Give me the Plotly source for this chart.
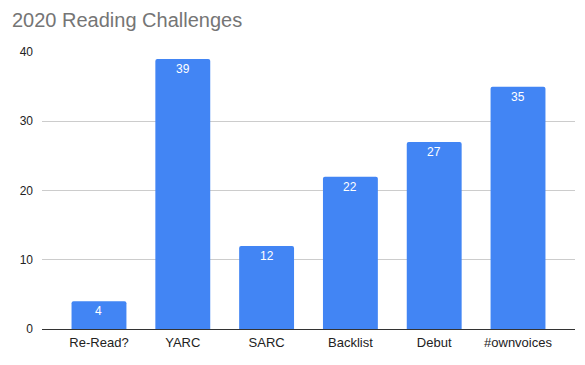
import plotly.graph_objects as go

categories = ["Re-Read?", "YARC", "SARC", "Backlist", "Debut", "#ownvoices"]
values = [4, 39, 12, 22, 27, 35]
y_ticks = [0, 10, 20, 30, 40]

fig = go.Figure(go.Bar(
    x=categories, y=values,
    marker=dict(color="#4285F4", cornerradius=2, line=dict(width=0)),
    width=0.655,
    hoverinfo="x+y",
))

for c, v in zip(categories, values):
    fig.add_annotation(x=c, y=v, text=str(v), showarrow=False, yanchor="top", yshift=-1,
                       font=dict(color="white", size=12, family="Liberation Sans, Arial"))

fig.update_layout(
    width=585, height=365,
    margin=dict(l=32, r=18, t=44, b=44),
    paper_bgcolor="white", plot_bgcolor="white",
    title=dict(text="2020 Reading Challenges", x=4 / 585, xanchor="left", y=1 - 12 / 365, yanchor="middle",
               font=dict(family="Liberation Sans, Arial", size=20, color="#757575")),
    font=dict(family="Liberation Sans, Arial", size=12, color="#222222"),
    showlegend=False,
    bargap=0.345,
)
fig.update_xaxes(range=[-0.68, 5.68], showgrid=False, showline=False, ticks="",
                 tickfont=dict(size=13, color="#222222"), ticklabelstandoff=4)
fig.update_yaxes(range=[0, 40], tickvals=y_ticks, showgrid=True, gridcolor="#cccccc",
                 zeroline=True, zerolinecolor="#333333", zerolinewidth=1,
                 ticks="", tickfont=dict(size=12, color="#222222"), ticklabelstandoff=8)

fig.write_html("out.html")
